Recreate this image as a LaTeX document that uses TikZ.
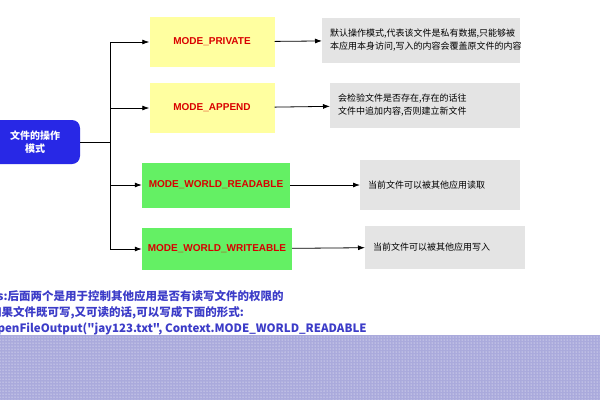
\documentclass[tikz,border=0pt]{standalone}
\usepackage{fontspec}
\setmainfont{Liberation Sans}
\newfontfamily\cjk{Noto Sans CJK SC}
\usetikzlibrary{arrows.meta}
\usetikzlibrary{positioning}
\usetikzlibrary{patterns}
\definecolor{modeblue}{RGB}{40,40,230}
\definecolor{modeyellow}{RGB}{255,255,160}
\definecolor{modegreen}{RGB}{100,240,100}
\definecolor{descgray}{RGB}{228,228,228}
\definecolor{notecolor}{RGB}{60,60,200}
\definecolor{bandcolor}{RGB}{170,170,220}
\tikzset{
    modebox/.style={draw=none, minimum height=46pt, font=\bfseries\fontsize{10}{12}\selectfont, text=red!85!black},
    descbox/.style={fill=descgray, minimum height=45pt, align=left, inner sep=8pt, font=\cjk\fontsize{9}{13}\selectfont, anchor=west},
    link/.style={-{Latex[length=7pt,width=5pt]}, thick}
}
\begin{document}
\begin{tikzpicture}[x=1pt,y=-1pt]
    \useasboundingbox (0,0) rectangle (600,400);
    \fill[white] (0,0) rectangle (600,400);
    \fill[bandcolor] (0,335) rectangle (600,400);
    \fill[pattern=dots, pattern color=white] (0,335) rectangle (600,400);

    \node[fill=modeblue, rounded corners=8pt, text=white, minimum width=100pt, minimum height=44pt, align=center, font=\cjk\bfseries\fontsize{10}{13}\selectfont] (root) at (30,142) {\hspace*{10pt}文件的操作\\\hspace*{10pt}模式};

    \node[modebox, fill=modeyellow, minimum width=125pt, minimum height=50pt] (priv) at (212,42) {MODE\_PRIVATE};
    \node[modebox, fill=modeyellow, minimum width=125pt, minimum height=50pt] (app) at (212,108) {MODE\_APPEND};
    \node[modebox, fill=modegreen, minimum width=148pt, minimum height=45pt] (read) at (216,185) {MODE\_WORLD\_READABLE};
    \node[modebox, fill=modegreen, minimum width=150pt, minimum height=42pt] (write) at (217,249) {MODE\_WORLD\_WRITEABLE};

    \node[descbox, text width=182pt] (dpriv) at (322,40) {默认操作模式,代表该文件是私有数据,只能够被\\本应用本身访问,写入的内容会覆盖原文件的内容};
    \node[descbox, text width=174pt] (dapp) at (330,105) {会检验文件是否存在,存在的话往\\文件中追加内容,否则建立新文件};
    \node[descbox, text width=144pt, minimum height=50pt] (dread) at (360,185) {当前文件可以被其他应用读取};
    \node[descbox, text width=144pt, minimum height=43pt] (dwrite) at (365,247) {当前文件可以被其他应用写入};

    \coordinate (trunk) at (110,142);
    \draw[thick] (root.east) -- (trunk);
    \draw[thick] (110,42) -- (110,249);
    \foreach \m in {priv,app,read,write}
        \draw[link] (\m.west -| trunk) -- (\m.west);

    \draw[link] (priv) -- (dpriv);
    \draw[link] (app) -- (dapp);
    \draw[link] (read) -- (dread);
    \draw[link] (write) -- (dwrite);

    \node[anchor=west, align=left, text=notecolor, inner sep=0pt, font=\cjk\bfseries\fontsize{11.5}{16}\selectfont] (note) at (-10,313) {ps:后面两个是用于控制其他应用是否有读写文件的权限的\\如果文件既可写,又可读的话,可以写成下面的形式:\\openFileOutput("jay123.txt", Context.MODE\_WORLD\_READABLE};
\end{tikzpicture}
\end{document}
